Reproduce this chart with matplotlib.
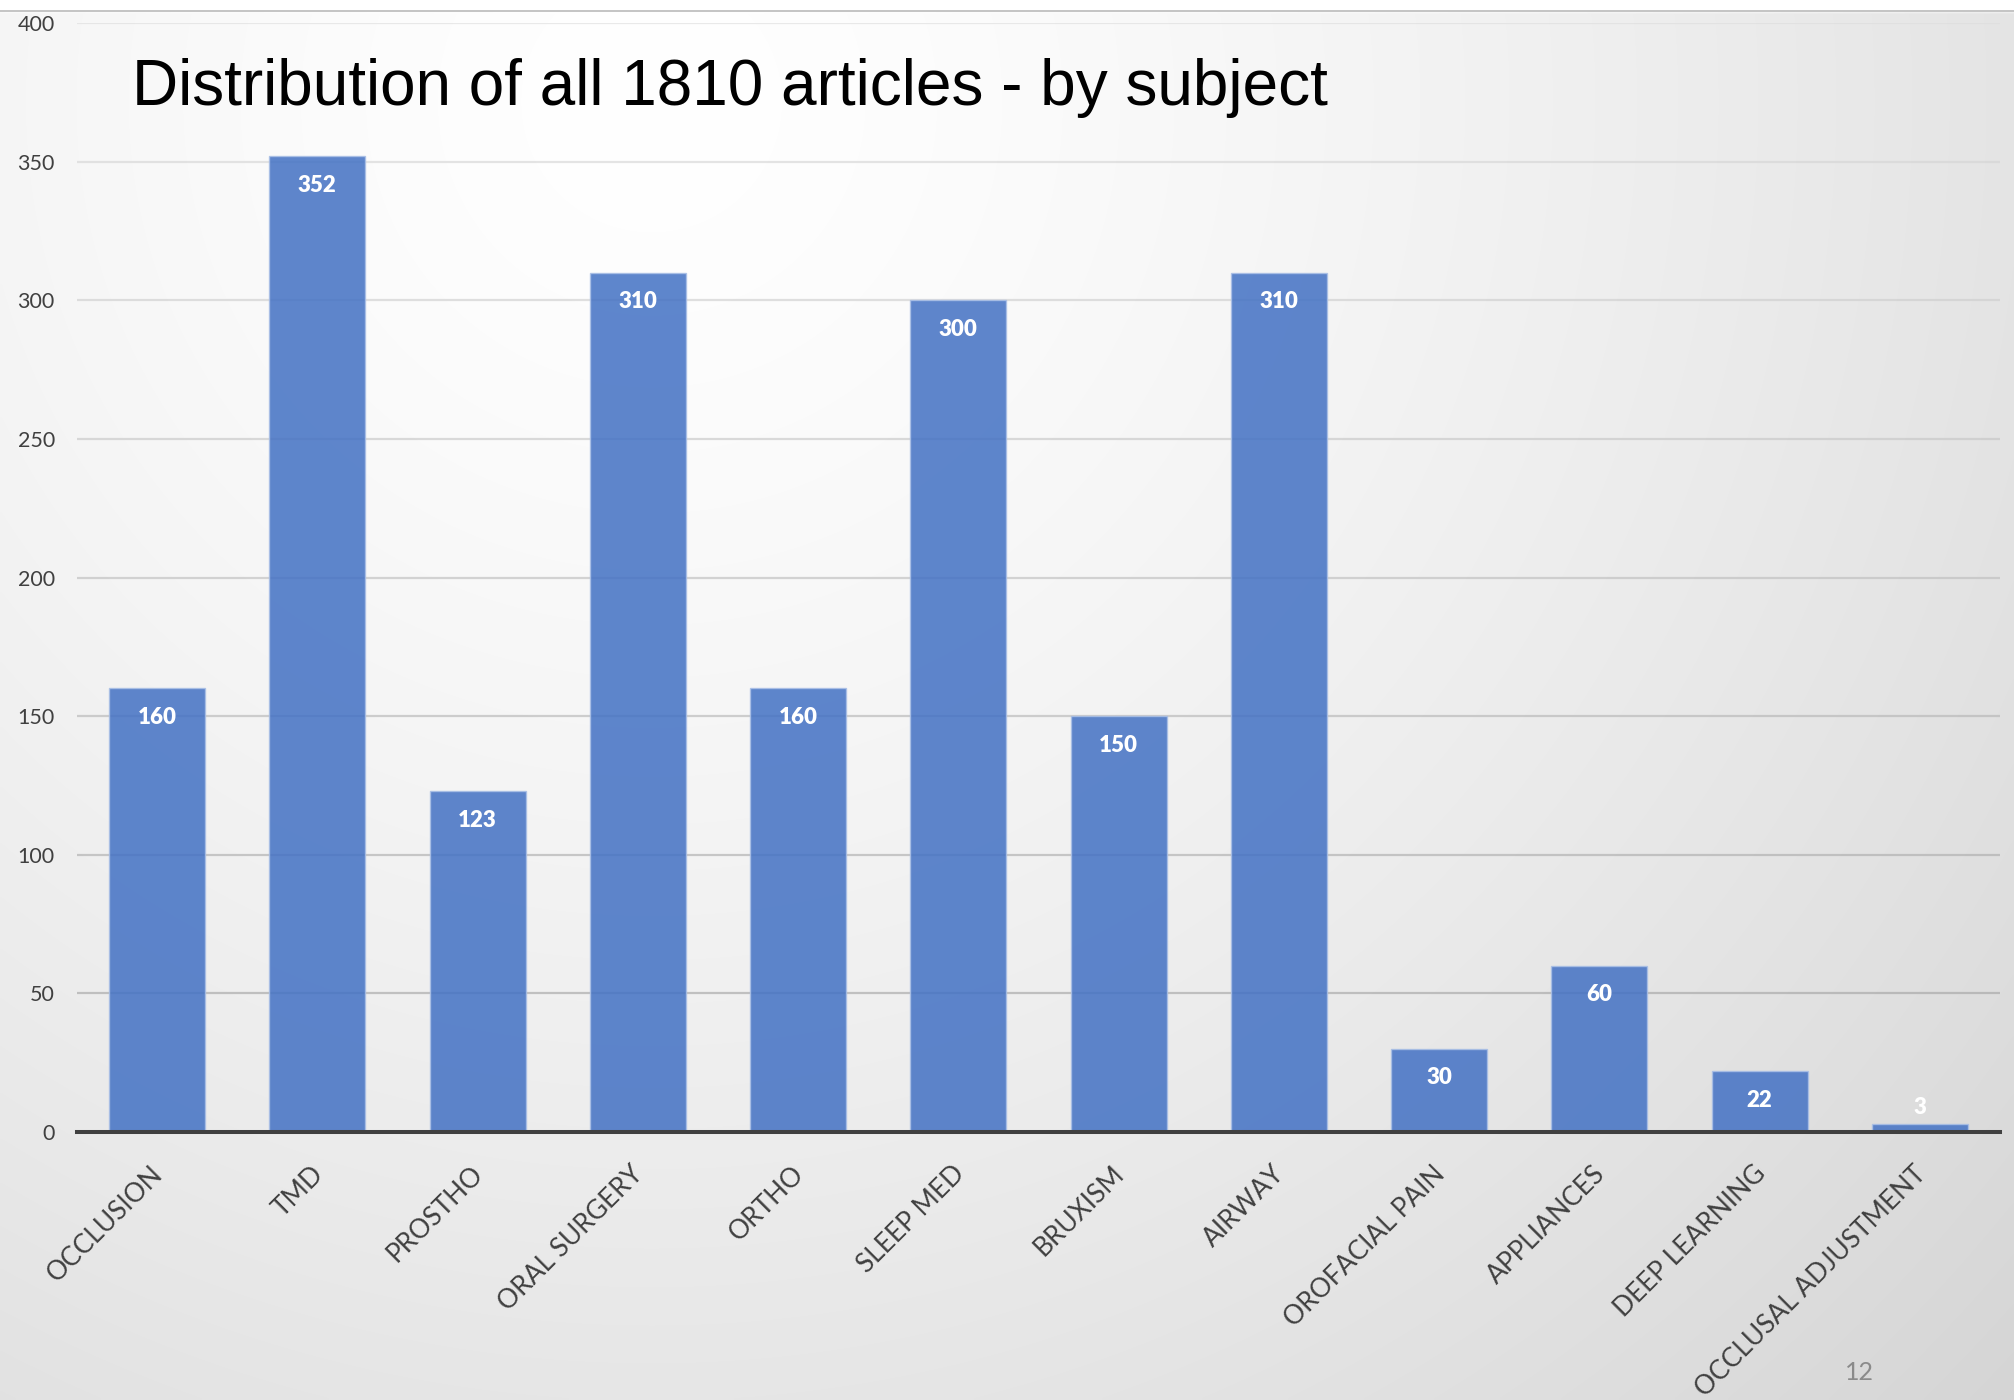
import numpy as np
import matplotlib
matplotlib.use("Agg")
import matplotlib.pyplot as plt
from matplotlib.transforms import ScaledTranslation

# ---- data ----
categories = ["OCCLUSION", "TMD", "PROSTHO", "ORAL SURGERY", "ORTHO", "SLEEP MED",
              "BRUXISM", "AIRWAY", "OROFACIAL PAIN", "APPLIANCES", "DEEP LEARNING",
              "OCCLUSAL ADJUSTMENT"]
values = [160, 352, 123, 310, 160, 300, 150, 310, 30, 60, 22, 3]
yticks = [0, 50, 100, 150, 200, 250, 300, 350, 400]
title = "Distribution of all 1810 articles - by subject"
page_number = "12"

W, H, DPI = 2015, 1400, 100
fig = plt.figure(figsize=(W / DPI, H / DPI), dpi=DPI)

# ---- background gradient (slide style) ----
bg = fig.add_axes([0, 0, 1, 1], zorder=-10)
yy, xx = np.mgrid[0:H:4, 0:W:4]
d = np.sqrt((xx - 650.0) ** 2 + (yy - 100.0) ** 2)
shade = 255 - 41 * (d / 1849.0) ** 1.4
shade = np.clip(shade, 0, 255) / 255.0
shade[yy < 10] = 1.0
img = np.dstack([shade, shade, shade])
bg.imshow(img, extent=[0, 1, 0, 1], aspect="auto", interpolation="bilinear")
bg.axhline(1 - 10.5 / H, color="#c4c4c4", lw=1.4)
bg.set_xlim(0, 1)
bg.set_ylim(0, 1)
bg.axis("off")

# ---- chart axes ----
left, right = 77 / W, 2000 / W
bottom, top = 1 - 1132 / H, 1 - 23 / H
ax = fig.add_axes([left, bottom, right - left, top - bottom])
ax.patch.set_alpha(0)

x = np.arange(len(categories))
bars = ax.bar(x, values, width=0.6, color="#4472c4", alpha=0.86,
              edgecolor="#a9bfe6", linewidth=1.0, zorder=3)
ax.set_xlim(-0.5, len(categories) - 0.5)
ax.set_ylim(0, 400)
ax.set_yticks(yticks)
ax.set_yticklabels([str(t) for t in yticks])

for s in ["top", "right", "left"]:
    ax.spines[s].set_visible(False)
ax.spines["bottom"].set_color("#404040")
ax.spines["bottom"].set_linewidth(2.9)
ax.spines["bottom"].set_zorder(5)

ax.tick_params(axis="y", length=0, pad=16, labelsize=15.5, labelcolor="#404040")
ax.tick_params(axis="x", length=0, pad=21, labelsize=19, labelcolor="#404040")
for lab in ax.get_yticklabels():
    lab.set_fontfamily("Lato")

ax.yaxis.grid(True, lw=1.6, zorder=4)
ax.set_axisbelow(False)
ax.xaxis.grid(False)
grid_lo = np.array([0x98, 0x98, 0x98]) / 255
grid_hi = np.array([0xdc, 0xdc, 0xdc]) / 255
for gl, t in zip(ax.get_ygridlines(), yticks):
    f = t / 400.0
    c = grid_lo * (1 - f) + grid_hi * f
    gl.set_color(tuple(c))
    gl.set_alpha(0.6 if t > 0 else 0)
    gl.set_zorder(4)

ax.set_xticks(x)
ax.set_xticklabels(categories, rotation=45, ha="right", va="top",
                   rotation_mode="anchor", fontfamily="Lato")
off = ScaledTranslation(-7 / DPI, 0, fig.dpi_scale_trans)
for lab in ax.get_xticklabels():
    lab.set_transform(lab.get_transform() + off)

# data labels
for xi, v in zip(x, values):
    dy = -21 if v >= 15 else 11.5
    ax.annotate(str(v), (xi, v), xytext=(0, dy), textcoords="offset points",
                ha="center", va="center", color="white", fontsize=16,
                fontweight="heavy", fontfamily="Lato", zorder=6)

# title
fig.text(132 / W, 1 - 105 / H, title, fontsize=46, family="Liberation Sans",
         color="black", ha="left", va="baseline")

# page number
fig.text(1859 / W, 1 - 1372 / H, page_number, fontsize=18, family="Lato",
         color="#8a8a8a", ha="center", va="center")

fig.savefig("out.png", dpi=DPI)
